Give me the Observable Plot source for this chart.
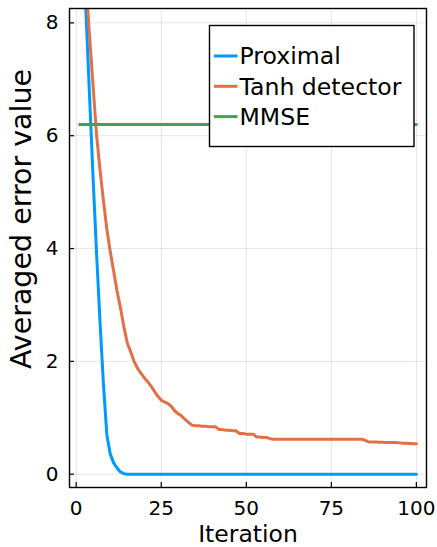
<!DOCTYPE html>
<html>
<head>
<meta charset="utf-8">
<script src="https://cdn.jsdelivr.net/npm/d3@7"></script>
<script src="https://cdn.jsdelivr.net/npm/@observablehq/plot@0.6"></script>
<style>
  html, body { margin: 0; padding: 0; background: #fff; }
  #chart { width: 437px; height: 547px; }
  svg { font-family: "DejaVu Sans", sans-serif; }
</style>
</head>
<body>
<div id="chart"></div>
<script>
// ---- data ----
const iterations = [1,2,3,4,5,6,7,8,9,10,11,12,13,14,15,16,17,18,19,20,21,22,23,24,25,26,27,28,29,30,31,32,33,34,35,36,37,38,39,40,41,42,43,44,45,46,47,48,49,50,51,52,53,54,55,56,57,58,59,60,61,62,63,64,65,66,67,68,69,70,71,72,73,74,75,76,77,78,79,80,81,82,83,84,85,86,87,88,89,90,91,92,93,94,95,96,97,98,99,100];
const proximal = [11.0,9.5,8.0,6.6,5.2,3.9,2.7,1.6,0.7,0.36,0.2,0.11,0.04,0.01,0,0,0,0,0,0,0,0,0,0,0,0,0,0,0,0,0,0,0,0,0,0,0,0,0,0,0,0,0,0,0,0,0,0,0,0,0,0,0,0,0,0,0,0,0,0,0,0,0,0,0,0,0,0,0,0,0,0,0,0,0,0,0,0,0,0,0,0,0,0,0,0,0,0,0,0,0,0,0,0,0,0,0,0,0,0];
const tanhDetector = [10.5,9.5,8.6,7.7,6.85,6.0,5.4,4.85,4.35,3.95,3.6,3.25,2.95,2.62,2.33,2.17,2.0,1.88,1.79,1.71,1.64,1.56,1.47,1.38,1.31,1.28,1.25,1.2,1.12,1.07,1.03,0.97,0.92,0.87,0.86,0.86,0.85,0.85,0.84,0.84,0.84,0.79,0.79,0.78,0.78,0.77,0.77,0.72,0.72,0.71,0.71,0.71,0.66,0.66,0.65,0.65,0.63,0.62,0.62,0.62,0.62,0.62,0.62,0.62,0.62,0.62,0.62,0.62,0.62,0.62,0.62,0.62,0.62,0.62,0.62,0.62,0.62,0.62,0.62,0.62,0.62,0.62,0.62,0.62,0.6,0.57,0.57,0.57,0.565,0.565,0.56,0.56,0.56,0.56,0.555,0.55,0.55,0.545,0.54,0.54];
const mmseIterations = [1, 100];
const mmse = [6.2, 6.2];

const seriesNames = ["Proximal", "Tanh detector", "MMSE"];
const seriesColors = ["#009AFA", "#E36F47", "#3EA44E"];

const xTicks = [0, 25, 50, 75, 100];
const yTicks = [0, 2, 4, 6, 8];
const xDomain = [-1.97, 102.97];
const yDomain = [-0.236, 8.255];

const xLabel = "Iteration";
const yLabel = "Averaged error value";

// ---- build rows ----
const rows = [];
iterations.forEach((it, i) => rows.push({series: seriesNames[0], x: it, y: proximal[i]}));
iterations.forEach((it, i) => rows.push({series: seriesNames[1], x: it, y: tanhDetector[i]}));
mmseIterations.forEach((it, i) => rows.push({series: seriesNames[2], x: it, y: mmse[i]}));

const W = 437, H = 547;
const mL = 69, mR = 11, mT = 8, mB = 60;
const plotW = W - mL - mR, plotH = H - mT - mB;
const font = "DejaVu Sans";

const chart = Plot.plot({
  width: W, height: H,
  marginLeft: mL, marginRight: mR, marginTop: mT, marginBottom: mB,
  style: {fontFamily: font, background: "#fff", color: "#000"},
  x: {domain: xDomain},
  y: {domain: yDomain},
  color: {domain: seriesNames, range: seriesColors},
  marks: [
    Plot.gridX(xTicks, {stroke: "#000", strokeOpacity: 0.1, strokeWidth: 1}),
    Plot.gridY(yTicks, {stroke: "#000", strokeOpacity: 0.1, strokeWidth: 1}),
    Plot.line(rows, {x: "x", y: "y", z: "series", stroke: "series", strokeWidth: 3, clip: true, strokeLinejoin: "round"}),
    Plot.frame({stroke: "#000", strokeWidth: 1.4}),
    Plot.tickX(xTicks, {x: d => d, stroke: "#000", strokeWidth: 1.2, insetTop: plotH - 5}),
    Plot.tickY(yTicks, {y: d => d, stroke: "#000", strokeWidth: 1.2, insetRight: plotW - 5}),
    Plot.axisX({ticks: xTicks, tickSize: 0, tickPadding: 13, fontSize: 20, label: null, fill: "#000"}),
    Plot.axisY({ticks: yTicks, tickSize: 0, tickPadding: 11, fontSize: 20, label: null, fill: "#000"}),
    Plot.text([xLabel], {frameAnchor: "bottom", textAnchor: "middle", dy: 54.5, lineAnchor: "bottom", fontSize: 23.5, fill: "#000"}),
    Plot.text([yLabel], {frameAnchor: "left", textAnchor: "middle", lineAnchor: "middle", rotate: -90, dx: -48, dy: -29, fontSize: 28.5, fill: "#000"})
  ]
});

document.getElementById("chart").appendChild(chart);

// ---- legend (inside the plot, top right) ----
const svg = d3.select(chart);
const lg = svg.append("g").attr("class", "legend").attr("text-anchor", "start");
const lx = 209.5, ly = 25.5, lw = 204.5, lh = 121;
lg.append("rect").attr("x", lx).attr("y", ly).attr("width", lw).attr("height", lh)
  .attr("fill", "#fff").attr("stroke", "#000").attr("stroke-width", 1.4);
seriesNames.forEach((name, i) => {
  const cy = 56 + i * 30.3;
  lg.append("line").attr("x1", 214).attr("x2", 237.5).attr("y1", cy).attr("y2", cy)
    .attr("stroke", seriesColors[i]).attr("stroke-width", 3);
  lg.append("text").attr("x", 239.5).attr("y", cy + 8.4).attr("font-size", 23.6)
    .attr("font-family", font).attr("text-anchor", "start").attr("fill", "#000").text(name);
});
</script>
</body>
</html>
